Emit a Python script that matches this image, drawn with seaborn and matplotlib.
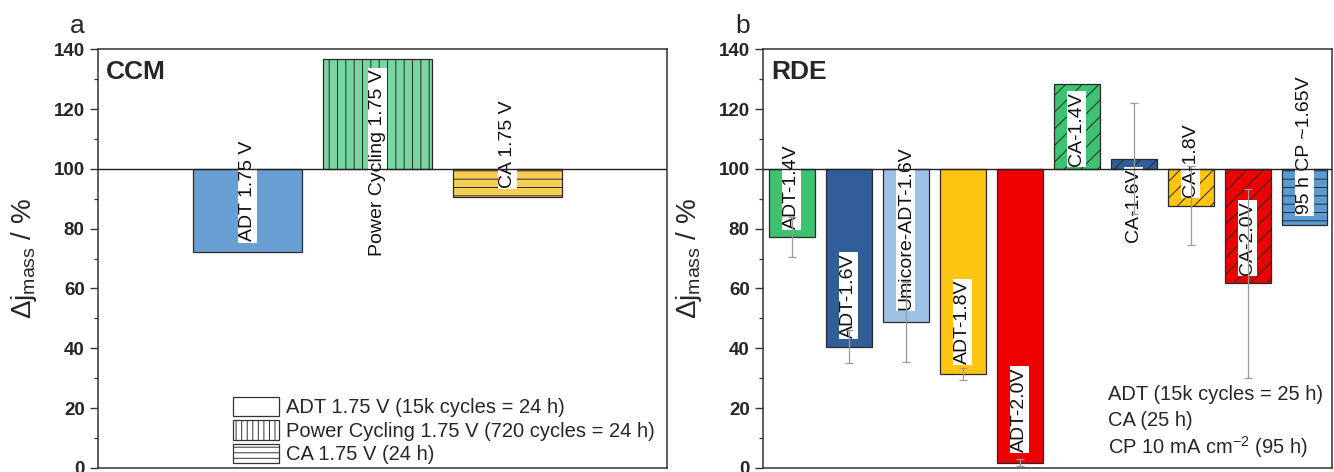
import numpy as np
import pandas as pd
import matplotlib
matplotlib.use("Agg")
import matplotlib.pyplot as plt
import seaborn as sns
from matplotlib.patches import Patch
from matplotlib.ticker import MultipleLocator

# ---------------- data ----------------
ccm_labels = ["ADT 1.75 V", "Power Cycling 1.75 V", "CA 1.75 V"]
ccm_values = [72.3, 136.9, 90.6]
ccm_colors = ["#6A9FD4", "#78D6A0", "#F7CE55"]
ccm_hatches = ["", "||", "--"]
ccm_label_y = [92.5, 102.2, 108.4]
ccm_legend = ["ADT 1.75 V (15k cycles = 24 h)",
              "Power Cycling 1.75 V (720 cycles = 24 h)",
              "CA 1.75 V (24 h)"]
ccm_legend_hatches = ["", "|||", "---"]

rde_labels = ["ADT-1.4V", "ADT-1.6V", "Umicore-ADT-1.6V", "ADT-1.8V", "ADT-2.0V",
              "CA-1.4V", "CA-1.6V", "CA-1.8V", "CA-2.0V", "95 h CP ~1.65V"]
rde_values = [77.2, 40.5, 48.9, 31.4, 1.7, 128.4, 103.4, 87.6, 61.8, 81.1]
rde_err = [6.7, 5.5, 13.4, 2.0, 1.2, 0.0, 18.6, 13.2, 31.6, 0.0]
rde_colors = ["#3CC270", "#2F5E98", "#9EC1E6", "#FFC513", "#EE0000",
              "#3CC270", "#2F5E98", "#FFC513", "#EE0000", "#5B9BD5"]
rde_hatches = ["", "", "", "", "", "//", "//", "//", "//", "--"]
rde_label_y = [94.2, 57.7, 80.2, 48.8, 19.4, 113.4, 88.0, 103.0, 76.8, 107.8]
rde_notes = ["ADT (15k cycles = 25 h)", "CA (25 h)",
             "CP 10 mA cm$\\mathregular{^{-2}}$ (95 h)"]

BASE = 100

# ---------------- style ----------------
sns.set_style("white")
plt.rcParams["font.family"] = ["Liberation Sans", "DejaVu Sans"]
plt.rcParams["hatch.linewidth"] = 0.7
plt.rcParams["mathtext.default"] = "regular"

fig = plt.figure(figsize=(13.34, 4.72), dpi=100)
ax1 = fig.add_axes([0.0737, 0.0089, 0.4265, 0.8866])
ax2 = fig.add_axes([0.5722, 0.0089, 0.4261, 0.8866])

EDGE = "#2a2a2a"


def draw_bars(ax, labels, values, colors, hatches, width):
    df = pd.DataFrame({"cond": labels, "delta": np.array(values) - BASE})
    sns.barplot(data=df, x="cond", y="delta", hue="cond", order=labels,
                hue_order=labels, palette=colors, saturation=1, width=width,
                bottom=BASE, errorbar=None, legend=False, edgecolor=EDGE,
                linewidth=0.9, ax=ax, zorder=2)
    for patch, h in zip(ax.patches, hatches):
        if h:
            patch.set_hatch(h)


def bar_labels(ax, labels, ys):
    for i, (lab, y) in enumerate(zip(labels, ys)):
        ax.text(i, y, lab, rotation=90, ha="center", va="center", fontsize=14,
                color="#111111", zorder=4,
                bbox=dict(facecolor="white", edgecolor="none", pad=0.8))


def style_axes(ax, xlim):
    ax.set_ylim(0, 140)
    ax.set_xlim(*xlim)
    ax.set_xticks([])
    ax.set_xlabel("")
    ax.yaxis.set_major_locator(MultipleLocator(20))
    ax.yaxis.set_minor_locator(MultipleLocator(10))
    ax.tick_params(axis="y", which="major", direction="out", length=5.8,
                   width=1.0, color="#333333", labelsize=13.5, pad=4, left=True)
    ax.tick_params(axis="y", which="minor", direction="out", length=3,
                   width=0.9, color="#333333", left=True)
    for lbl in ax.get_yticklabels():
        lbl.set_fontweight("bold")
    for sp in ax.spines.values():
        sp.set_visible(True)
        sp.set_color("#333333")
        sp.set_linewidth(1.1)
    ax.axhline(BASE, color="#222222", lw=1.0, zorder=5)
    ax.set_ylabel("Δj$_\\mathregular{mass}$ / %", fontsize=20)
    ax.yaxis.set_label_coords(-0.104, 0.5)


# ---------------- panel a ----------------
draw_bars(ax1, ccm_labels, ccm_values, ccm_colors, ccm_hatches, 0.837)
bar_labels(ax1, ccm_labels, ccm_label_y)
style_axes(ax1, (-1.144, 3.226))
ax1.text(0.0135, 0.975, "CCM", transform=ax1.transAxes, fontsize=19,
         fontweight="bold", ha="left", va="top")
handles = [Patch(facecolor="white", edgecolor="#333333", hatch=h, lw=0.9)
           for h in ccm_legend_hatches]
ax1.legend(handles, ccm_legend, loc="lower left", bbox_to_anchor=(0.237, 0.008),
           frameon=False, fontsize=14.5, handlelength=2.3, handleheight=1.1,
           handletextpad=0.3, labelspacing=0.15, borderpad=0, borderaxespad=0)

# ---------------- panel b ----------------
draw_bars(ax2, rde_labels, rde_values, rde_colors, rde_hatches, 0.805)
bar_labels(ax2, rde_labels, rde_label_y)
idx = [i for i, e in enumerate(rde_err) if e > 0]
ax2.errorbar([i for i in idx], [rde_values[i] for i in idx],
             yerr=[rde_err[i] for i in idx], fmt="none", ecolor="#9a9a9a",
             elinewidth=0.9, capsize=3, capthick=0.9, zorder=4.5)
style_axes(ax2, (-0.498, 9.477))
ax2.text(0.0148, 0.975, "RDE", transform=ax2.transAxes, fontsize=19,
         fontweight="bold", ha="left", va="top")
for yy, note in zip([0.174, 0.112, 0.05], rde_notes):
    ax2.text(0.6065, yy, note, transform=ax2.transAxes, fontsize=14.5,
             ha="left", va="center")

# panel letters
fig.text(0.0577, 0.945, "a", fontsize=19, ha="center", va="center")
fig.text(0.557, 0.945, "b", fontsize=19, ha="center", va="center")

fig.savefig("out.png", dpi=100)
